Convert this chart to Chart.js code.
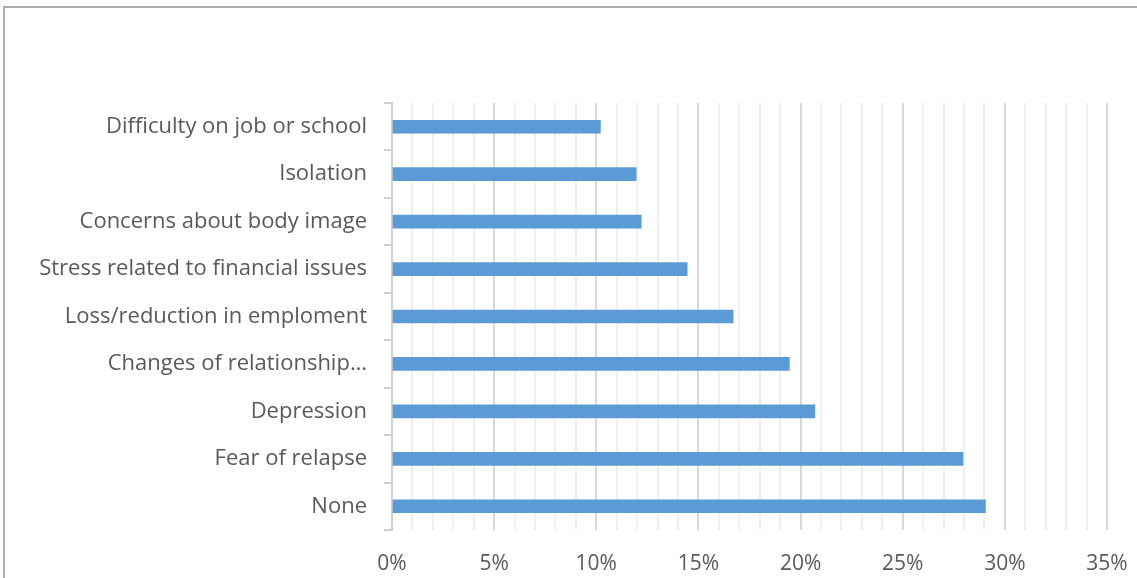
<!DOCTYPE html>
<html>
<head>
<meta charset="utf-8">
<script src="https://cdn.jsdelivr.net/npm/chart.js@4"></script>
<style>
    html, body { margin: 0; padding: 0; background: #ffffff; overflow: hidden; }
    #frame {
        position: absolute; left: 3px; top: 6px;
        width: 1300px; height: 700px;
        border: 2px solid #adadad; box-sizing: border-box;
    }
    #wrap { position: absolute; left: 0; top: 0; width: 1137px; height: 578px; }
</style>
</head>
<body>
<div id="frame"></div>
<div id="wrap"><canvas id="issuesChart" width="1137" height="578"></canvas></div>
<script>
// Reported issues, share of respondents (%)
const categories = [
    'Difficulty on job or school',
    'Isolation',
    'Concerns about body image',
    'Stress related to financial issues',
    'Loss/reduction in emploment',
    'Changes of relationship\u2026',
    'Depression',
    'Fear of relapse',
    'None'
];
const shares = [10.2, 11.95, 12.2, 14.45, 16.7, 19.45, 20.7, 27.95, 29.05];

const axisMin = 0;
const axisMax = 35;
const majorEvery = 5;

const textColor = '#595959';
const fontFamily = '"Open Sans", "Liberation Sans", sans-serif';

new Chart(document.getElementById('issuesChart'), {
    type: 'bar',
    data: {
        labels: categories,
        datasets: [{
            data: shares,
            backgroundColor: '#5b9bd5',
            borderWidth: 0,
            barThickness: 13
        }]
    },
    options: {
        indexAxis: 'y',
        responsive: false,
        animation: false,
        layout: { padding: { top: 103, right: 30, bottom: 0, left: 0 } },
        plugins: {
            legend: { display: false },
            tooltip: { enabled: false }
        },
        scales: {
            x: {
                min: axisMin,
                max: axisMax,
                afterFit: s => {
                    s.height = 48;
                    s.paddingLeft = 0;
                    s.paddingRight = 0;
                },
                border: { display: false },
                grid: {
                    drawTicks: false,
                    lineWidth: 2,
                    // every whole percent gets a faint line, every 5% a darker one
                    color: ctx => (ctx.tick && ctx.tick.value % majorEvery === 0) ? '#d9d9d9' : '#efefef'
                },
                ticks: {
                    stepSize: 1,
                    maxTicksLimit: 40,
                    autoSkip: false,
                    maxRotation: 0,
                    padding: 21,
                    color: textColor,
                    font: { family: fontFamily, size: 21 },
                    callback: v => (v % majorEvery === 0 ? v + '%' : '')
                }
            },
            y: {
                afterFit: s => { s.width = 392; },
                border: { display: true, color: '#d0d0d0', width: 2 },
                grid: {
                    drawOnChartArea: false,
                    tickLength: 8,
                    color: '#d0d0d0',
                    lineWidth: 2
                },
                ticks: {
                    padding: 17,
                    color: textColor,
                    font: { family: fontFamily, size: 22 }
                }
            }
        }
    }
});
</script>
</body>
</html>
